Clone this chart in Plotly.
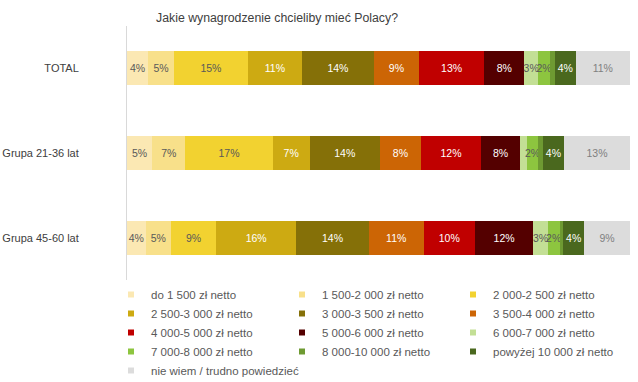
import plotly.graph_objects as go

categories = ["TOTAL", "Grupa 21-36 lat", "Grupa 45-60 lat"]
series_names = [
    "do 1 500 zł netto", "1 500-2 000 zł netto", "2 000-2 500 zł netto",
    "2 500-3 000 zł netto", "3 000-3 500 zł netto", "3 500-4 000 zł netto",
    "4 000-5 000 zł netto", "5 000-6 000 zł netto", "6 000-7 000 zł netto",
    "7 000-8 000 zł netto", "8 000-10 000 zł netto", "powyżej 10 000 zł netto",
    "nie wiem / trudno powiedzieć",
]
# values per series: [TOTAL, 21-36, 45-60]
v_do1500 = [4.2, 5.0, 3.7]
v_1500_2000 = [5.1, 6.6, 5.0]
v_2000_2500 = [14.7, 17.3, 8.9]
v_2500_3000 = [10.7, 7.4, 15.9]
v_3000_3500 = [14.3, 13.9, 14.3]
v_3500_4000 = [8.9, 8.2, 10.9]
v_4000_5000 = [13.0, 11.9, 10.1]
v_5000_6000 = [7.9, 7.8, 11.6]
v_6000_7000 = [2.8, 1.3, 2.8]
v_7000_8000 = [2.3, 2.3, 2.4]
v_8000_10000 = [1.0, 0.9, 0.7]
v_pow10000 = [4.1, 4.2, 4.1]
v_nie_wiem = [10.8, 13.1, 9.1]
series_values = [v_do1500, v_1500_2000, v_2000_2500, v_2500_3000, v_3000_3500,
                 v_3500_4000, v_4000_5000, v_5000_6000, v_6000_7000, v_7000_8000,
                 v_8000_10000, v_pow10000, v_nie_wiem]

colors = ["#FBE8B3", "#F8E08A", "#F2D230", "#CDAA12", "#857008", "#CC6505",
          "#C00000", "#540000", "#C3DF95", "#8DC53F", "#6E9A32", "#4A681E", "#DCDCDC"]
text_colors = ["#595959", "#595959", "#595959", "white", "white", "white",
               "white", "white", "#595959", "#595959", "white", "white", "#808080"]

FONT = "Liberation Sans, Arial, sans-serif"

fig = go.Figure()
for name, vals, col, tc in zip(series_names, series_values, colors, text_colors):
    texts = [f"{round(v)}%" if round(v) >= 2 else "" for v in vals]
    fig.add_trace(go.Bar(
        y=categories, x=vals, orientation="h", name=name,
        marker=dict(color=col, line=dict(width=0)),
        text=texts, textposition="inside", insidetextanchor="middle",
        constraintext="none", textangle=0,
        textfont=dict(color=tc, size=10.5, family=FONT),
        showlegend=False, hoverinfo="name+x",
    ))
for name, col in zip(series_names, colors):
    fig.add_trace(go.Scatter(
        x=[None], y=[None], mode="markers", name=name,
        marker=dict(symbol="square", size=6, color=col),
        showlegend=True,
    ))

fig.update_layout(
    width=638, height=382,
    barmode="stack", barnorm="percent", bargap=0.6,
    margin=dict(l=127, r=8, t=26, b=102, autoexpand=False),
    paper_bgcolor="white", plot_bgcolor="white",
    title=dict(text="Jakie wynagrodzenie chcieliby mieć Polacy?",
               xref="container", x=277/638, xanchor="center",
               yref="container", y=1 - 18/382, yanchor="middle",
               font=dict(family=FONT, size=12.3, color="#404040")),
    xaxis=dict(range=[0, 100], visible=False, fixedrange=True),
    yaxis=dict(categoryorder="array", categoryarray=categories[::-1],
               showline=True, linecolor="#D9D9D9", linewidth=1,
               ticks="outside", ticklen=45, tickcolor="rgba(0,0,0,0)",
               showgrid=False, zeroline=False, automargin=False,
               tickfont=dict(family=FONT, size=11, color="#404040")),
    legend=dict(orientation="h", entrywidth=126, entrywidthmode="pixels",
                xref="paper", x=-16/503, xanchor="left",
                yref="paper", y=0, yanchor="top",
                font=dict(family=FONT, size=11.5, color="#595959"),
                itemsizing="trace", tracegroupgap=0, traceorder="normal"),
    showlegend=True,
)
fig.write_html("out.html")
